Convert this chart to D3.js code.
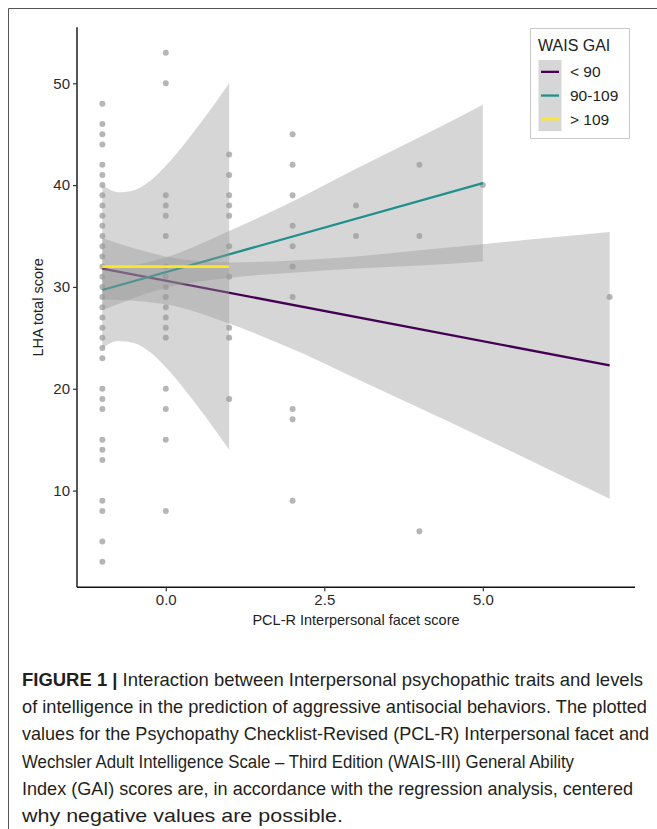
<!DOCTYPE html>
<html>
<head>
<meta charset="utf-8">
<script src="https://cdn.jsdelivr.net/npm/d3@7"></script>
<style>
  html, body { margin: 0; padding: 0; background: #fff; }
  svg { display: block; font-family: 'Liberation Sans', Arial, sans-serif; }
</style>
</head>
<body>
<div id="chart"></div>
<script>
// ---- data ----
const xTicks = [0, 2.5, 5]
const yTicks = [10, 20, 30, 40, 50]

// observed scores, one array per PCL-R facet value
const scoresAtM1 = [48, 46, 45, 44, 42, 41, 40, 39, 38, 37, 36, 35, 34, 33, 32, 31, 30, 29, 28, 27, 26, 25, 24, 23, 20, 19, 18, 15, 14, 13, 9, 8, 5, 3]
const scoresAt0 = [53, 50, 39, 38, 37, 35, 32, 31, 30, 29, 28, 27, 26, 25, 20, 18, 15, 8]
const scoresAt1 = [43, 41, 39, 38, 37, 34, 31, 26, 25, 19]
const scoresAt2 = [45, 42, 39, 36, 34, 32, 29, 18, 17, 9]
const scoresAt3 = [38, 35]
const scoresAt4 = [42, 35, 6]
const scoresAt5 = [40]
const scoresAt7 = [29]

const groups = ['< 90', '90-109', '> 109']
const groupColors = ['#440154', '#21908C', '#FDE725']

// fitted lines
const fitLow = [{ x: -1, y: 31.8 }, { x: 7, y: 22.3 }]
const fitMid = [{ x: -1, y: 29.7 }, { x: 5, y: 40.2 }]
const fitHigh = [{ x: -1, y: 32.0 }, { x: 1, y: 32.0 }]

// confidence bands
const bandLow = [
  { x: -1, lo: 28.8, hi: 34.8 }, { x: 0, lo: 28.3, hi: 33.0 }, { x: 1, lo: 26.4, hi: 32.4 },
  { x: 2, lo: 23.9, hi: 32.6 }, { x: 3, lo: 21.0, hi: 33.0 }, { x: 4, lo: 18.1, hi: 33.6 },
  { x: 5, lo: 15.2, hi: 34.2 }, { x: 6, lo: 12.2, hi: 34.8 }, { x: 7, lo: 9.2, hi: 35.4 }
]
const bandMid = [
  { x: -1, lo: 27.7, hi: 31.7 }, { x: 0, lo: 29.9, hi: 32.9 }, { x: 1, lo: 30.9, hi: 35.5 },
  { x: 2, lo: 31.4, hi: 38.4 }, { x: 3, lo: 31.8, hi: 41.6 }, { x: 4, lo: 32.1, hi: 44.7 },
  { x: 5, lo: 32.5, hi: 47.9 }
]
const bandHigh = [
  { x: -1, lo: 24.0, hi: 40.0 }, { x: -0.75, lo: 24.7, hi: 39.3 }, { x: -0.5, lo: 24.5, hi: 39.5 },
  { x: -0.25, lo: 23.6, hi: 40.4 }, { x: 0, lo: 22.1, hi: 41.9 }, { x: 0.25, lo: 20.3, hi: 43.7 },
  { x: 0.5, lo: 18.3, hi: 45.7 }, { x: 0.75, lo: 16.2, hi: 47.8 }, { x: 1, lo: 14.0, hi: 50.0 }
]

const captionLines = [
  'Interaction between Interpersonal psychopathic traits and levels',
  'of intelligence in the prediction of aggressive antisocial behaviors. The plotted',
  'values for the Psychopathy Checklist-Revised (PCL-R) Interpersonal facet and',
  'Wechsler Adult Intelligence Scale \u2013 Third Edition (WAIS-III) General Ability',
  'Index (GAI) scores are, in accordance with the regression analysis, centered',
  'why negative values are possible.'
]
// printed width of each caption line in the figure
const captionWidths = [621, 625, 627, 552, 611, 321]

// ---- drawing ----
const width = 657
const height = 829
const panel = { left: 77, right: 635, top: 27.3, bottom: 587.3 }

const svg = d3.select('#chart').append('svg')
  .attr('width', width)
  .attr('height', height)

// figure frame (top and left edges)
svg.append('path')
  .attr('d', `M8.5,${height}V8.5H${width}`)
  .attr('fill', 'none')
  .attr('stroke', '#555')
  .attr('stroke-width', 1)

const x = d3.scaleLinear().domain([-1.4, 7.4]).range([panel.left, panel.right])
const y = d3.scaleLinear().domain([0.5, 55.5]).range([panel.bottom, panel.top])

const scatter = [
  [-1, scoresAtM1], [0, scoresAt0], [1, scoresAt1], [2, scoresAt2],
  [3, scoresAt3], [4, scoresAt4], [5, scoresAt5], [7, scoresAt7]
].flatMap(([px, ys]) => ys.map((v) => ({ x: px, y: v })))

svg.append('g')
  .selectAll('circle')
  .data(scatter)
  .join('circle')
  .attr('cx', (d) => x(d.x))
  .attr('cy', (d) => y(d.y))
  .attr('r', 3)
  .attr('fill', '#b6b6b6')

const area = d3.area()
  .x((d) => x(d.x))
  .y0((d) => y(d.lo))
  .y1((d) => y(d.hi))
  .curve(d3.curveMonotoneX)

const line = d3.line()
  .x((d) => x(d.x))
  .y((d) => y(d.y))

const fits = [[bandLow, fitLow], [bandMid, fitMid], [bandHigh, fitHigh]]
fits.forEach(([band, fit], i) => {
  svg.append('path')
    .datum(band)
    .attr('d', area)
    .attr('fill', '#999999')
    .attr('fill-opacity', 0.4)
  svg.append('path')
    .datum(fit)
    .attr('d', line)
    .attr('fill', 'none')
    .attr('stroke', groupColors[i])
    .attr('stroke-width', i === 2 ? 2.8 : 2.3)
})

// axes
const yAxis = svg.append('g')
  .attr('transform', `translate(${panel.left},0)`)
  .call(d3.axisLeft(y).tickValues(yTicks).tickSize(4).tickPadding(3).tickFormat(d3.format('d')))
const xAxis = svg.append('g')
  .attr('transform', `translate(0,${panel.bottom})`)
  .call(d3.axisBottom(x).tickValues(xTicks).tickSize(4).tickPadding(3).tickFormat(d3.format('.1f')))

;[yAxis, xAxis].forEach((g) => {
  g.select('.domain').attr('stroke', '#111').attr('stroke-width', 1.4)
  g.selectAll('.tick line').attr('stroke', '#333').attr('stroke-width', 1.2)
  g.selectAll('.tick text').attr('fill', '#2b2b2b').attr('font-size', 15)
  g.attr('font-family', null)
})
yAxis.select('.domain').attr('d', `M0,${panel.top}V${panel.bottom}`)
xAxis.select('.domain').attr('d', `M${panel.left},0H${panel.right}`)

svg.append('text')
  .attr('x', (panel.left + panel.right) / 2)
  .attr('y', 625)
  .attr('text-anchor', 'middle')
  .attr('font-size', 14.5)
  .attr('fill', '#222')
  .text('PCL-R Interpersonal facet score')

svg.append('text')
  .attr('transform', `translate(43,${(panel.top + panel.bottom) / 2}) rotate(-90)`)
  .attr('text-anchor', 'middle')
  .attr('font-size', 14.5)
  .attr('fill', '#222')
  .text('LHA total score')

// legend
const legend = svg.append('g').attr('transform', 'translate(530,28)')
legend.append('rect')
  .attr('x', 0.5).attr('y', 0.5)
  .attr('width', 99).attr('height', 110)
  .attr('fill', '#fff')
  .attr('stroke', '#c8c8c8')
legend.append('text')
  .attr('x', 8).attr('y', 23)
  .attr('font-size', 16)
  .attr('fill', '#222')
  .text('WAIS GAI')
const keyH = 23.7
legend.append('rect')
  .attr('x', 8.5).attr('y', 32)
  .attr('width', 23).attr('height', keyH * groups.length)
  .attr('fill', '#d6d6d6')
groups.forEach((g, i) => {
  const cy = 32 + keyH * (i + 0.5)
  legend.append('line')
    .attr('x1', 11).attr('x2', 29)
    .attr('y1', cy).attr('y2', cy)
    .attr('stroke', groupColors[i])
    .attr('stroke-width', 2.3)
  legend.append('text')
    .attr('x', 40).attr('y', cy)
    .attr('dy', '0.35em')
    .attr('font-size', 15.5)
    .attr('fill', '#222')
    .text(g)
})

// caption
const caption = svg.append('g').attr('fill', '#231f20').attr('font-size', 18.2)
captionLines.forEach((t, i) => {
  const tx = caption.append('text')
    .attr('x', 22)
    .attr('y', 686 + i * 27.2)
    .attr('textLength', captionWidths[i])
    .attr('lengthAdjust', 'spacingAndGlyphs')
  if (i === 0) {
    tx.append('tspan').attr('font-weight', 'bold').text('FIGURE 1 | ')
  }
  tx.append('tspan').text(t)
})
</script>
</body>
</html>
